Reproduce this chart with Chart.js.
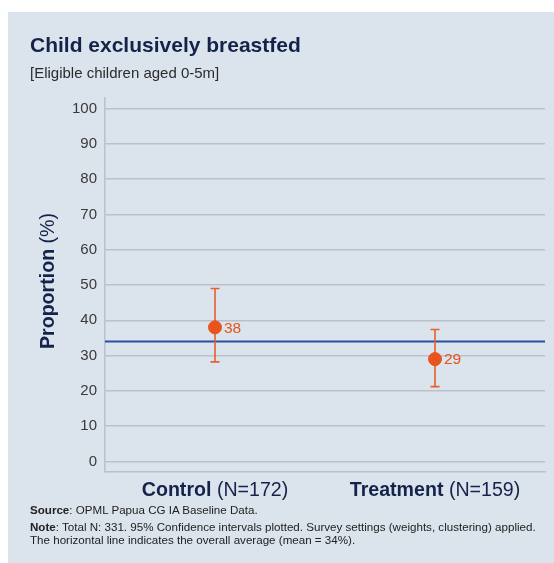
<!DOCTYPE html>
<html>
<head>
<meta charset="utf-8">
<script src="https://cdn.jsdelivr.net/npm/chart.js@4"></script>
<style>
  body { margin: 0; background: #fff; font-family: "Liberation Sans", Arial, sans-serif; }
  #panel { position: absolute; left: 8px; top: 12px; width: 546px; height: 551px; background: #dbe3ec; }
  #wrap { position: absolute; left: 0; top: 0; width: 554px; height: 563px; }
  .txt { position: absolute; white-space: nowrap; }
  #title { left: 30px; top: 33px; font-size: 21px; font-weight: bold; color: #14234a; }
  #subtitle { left: 30px; top: 64px; font-size: 15px; color: #2b2b2b; }
  #source { left: 30px; top: 503px; font-size: 11.6px; color: #222; }
  #note { left: 30px; top: 520px; font-size: 11.6px; line-height: 13px; color: #222; }
</style>
</head>
<body>
<div id="panel"></div>
<div id="wrap"><canvas id="chart"></canvas></div>
<div class="txt" id="title">Child exclusively breastfed</div>
<div class="txt" id="subtitle">[Eligible children aged 0-5m]</div>
<div class="txt" id="source"><b>Source</b>: OPML Papua CG IA Baseline Data.</div>
<div class="txt" id="note"><b>Note</b>: Total N: 331. 95% Confidence intervals plotted. Survey settings (weights, clustering) applied.<br>The horizontal line indicates the overall average (mean = 34%).</div>
<script>
// Data
const groups = ['Control', 'Treatment'];
const groupN = ['(N=172)', '(N=159)'];
const proportion = [38, 29];
const ciLow = [28.2, 21.2];
const ciHigh = [49.0, 37.4];
const overallMean = 34;
const yTicks = [0, 10, 20, 30, 40, 50, 60, 70, 80, 90, 100];

const orange = '#e8541c';
const navy = '#14234a';

// error bars, labels, mean line, category labels, y title
const extras = {
  id: 'extras',
  beforeDatasetsDraw(chart) {
    const { ctx, chartArea, scales: { x, y } } = chart;
    // mean line
    const my = y.getPixelForValue(overallMean);
    ctx.save();
    ctx.strokeStyle = '#2a4f9c';
    ctx.lineWidth = 2;
    ctx.beginPath();
    ctx.moveTo(chartArea.left, my);
    ctx.lineTo(chartArea.right, my);
    ctx.stroke();
    // error bars
    ctx.strokeStyle = '#e8602c';
    ctx.lineWidth = 1.6;
    groups.forEach((g, i) => {
      const px = x.getPixelForValue(i);
      const top = y.getPixelForValue(ciHigh[i]);
      const bot = y.getPixelForValue(ciLow[i]);
      ctx.beginPath();
      ctx.moveTo(px, top); ctx.lineTo(px, bot);
      ctx.moveTo(px - 4.5, top); ctx.lineTo(px + 4.5, top);
      ctx.moveTo(px - 4.5, bot); ctx.lineTo(px + 4.5, bot);
      ctx.stroke();
    });
    ctx.restore();
  },
  afterDraw(chart) {
    const { ctx, scales: { x, y } } = chart;
    ctx.save();
    // value labels
    ctx.fillStyle = orange;
    ctx.font = '15.5px "Liberation Sans", Arial, sans-serif';
    ctx.textBaseline = 'middle';
    ctx.textAlign = 'left';
    proportion.forEach((v, i) => {
      ctx.fillText(String(v), x.getPixelForValue(i) + 9, y.getPixelForValue(v) + 1);
    });
    // category labels: bold name + normal N
    ctx.fillStyle = navy;
    ctx.textBaseline = 'alphabetic';
    const boldFont = 'bold 19.6px "Liberation Sans", Arial, sans-serif';
    const normFont = '19.6px "Liberation Sans", Arial, sans-serif';
    groups.forEach((g, i) => {
      ctx.font = boldFont;
      const w1 = ctx.measureText(g).width;
      ctx.font = normFont;
      const w2 = ctx.measureText(' ' + groupN[i]).width;
      let sx = x.getPixelForValue(i) - (w1 + w2) / 2;
      ctx.font = boldFont;
      ctx.fillText(g, sx, 496);
      ctx.font = normFont;
      ctx.fillText(' ' + groupN[i], sx + w1, 496);
    });
    // y axis title
    ctx.translate(54, 281);
    ctx.rotate(-Math.PI / 2);
    ctx.font = boldFont;
    const t1 = 'Proportion';
    const a = ctx.measureText(t1).width;
    ctx.font = normFont;
    const t2 = ' (%)';
    const b = ctx.measureText(t2).width;
    ctx.font = boldFont;
    ctx.fillText(t1, -(a + b) / 2, 0);
    ctx.font = normFont;
    ctx.fillText(t2, -(a + b) / 2 + a, 0);
    ctx.restore();
  }
};

new Chart(document.getElementById('chart'), {
  type: 'line',
  data: {
    labels: groups,
    datasets: [{
      data: proportion,
      showLine: false,
      pointRadius: 6.5,
      pointHoverRadius: 6.5,
      pointBackgroundColor: orange,
      pointBorderColor: orange
    }]
  },
  options: {
    responsive: true,
    maintainAspectRatio: false,
    animation: false,
    layout: { padding: { left: 8, top: 98, right: 9, bottom: 91 } },
    plugins: { legend: { display: false }, tooltip: { enabled: false } },
    scales: {
      x: {
        offset: true,
        grid: { display: false, drawTicks: false },
        border: { color: '#b9c2cc', width: 1.5 },
        ticks: { display: false },
        afterFit: s => { s.height = 0; }
      },
      y: {
        min: -3,
        max: 103,
        afterBuildTicks: s => { s.ticks = yTicks.map(v => ({ value: v })); },
        afterFit: s => { s.width = 97; },
        grid: { color: '#b9c2cc', lineWidth: 1.5, drawTicks: false },
        border: { color: '#b9c2cc', width: 1.5 },
        ticks: {
          padding: 8,
          color: '#3a3a3a',
          font: { size: 15, family: '"Liberation Sans", Arial, sans-serif' }
        }
      }
    }
  },
  plugins: [extras]
});
</script>
</body>
</html>
